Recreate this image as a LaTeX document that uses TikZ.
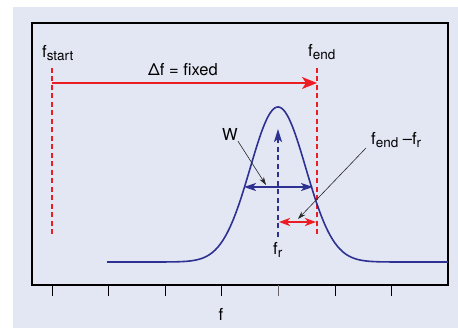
\documentclass[tikz,border=0pt]{standalone}
\usepackage{fontspec}
\setmainfont{TeX Gyre Heros}
\usetikzlibrary{arrows.meta,positioning,calc}
\definecolor{bgblue}{HTML}{E3E7F3}
\definecolor{sigred}{HTML}{EC1C24}
\definecolor{sigblue}{HTML}{2E3192}
\newcommand{\fsub}[1]{\raisebox{-0.3ex}{\fontsize{13.5}{14}\selectfont #1}}

\begin{document}
\begin{tikzpicture}[
  x=1pt, y=-1pt,
  lbl/.style={inner sep=0pt, font=\fontsize{16.5}{18}\selectfont, anchor=base west},
  marker/.style={sigred, line width=1.8pt, dash pattern=on 5pt off 3.5pt},
  curve/.style={sigblue, line width=1.6pt},
  arr/.style={line width=1.8pt},
  leader/.style={black!85, line width=0.6pt, -{Stealth[length=8pt,width=5pt]}},
  tick/.style={line width=1pt}
]
\useasboundingbox (0,0) rectangle (458,328);
\fill[bgblue] (13,7) rectangle (458,328);
\draw[line width=1.3pt] (32,23) rectangle (448,285);
% axis ticks
\foreach \t in {52,108,165,221,335,391}
  \draw[tick] (\t,285) -- (\t,296);
\draw[tick, black!60] (278,285) -- (278,296);
\node[lbl, anchor=base] (faxis) at (221,321) {f};

% start and end markers
\coordinate (fs top) at (52,68);
\coordinate (fs bot) at (52,236);
\coordinate (fe top) at (317,68);
\coordinate (fe bot) at (317,236);
\draw[marker] (fs top) -- (fs bot);
\draw[marker] (fe top) -- (fe bot);
\node[lbl] (fstart) at (42,58) {f\fsub{start}};
\node[lbl] (fend) at (308,57) {f\fsub{end}};

% fixed span
\coordinate (span l) at (52,83);
\coordinate (span r) at (317,83);
\draw[arr, sigred, -{Stealth[length=15pt,width=12pt,inset=4pt]}] (span l) -- (span r);
\node[lbl] (span) at (148,76) {Δf = fixed};

% resonance curve
\draw[curve] plot[domain=107:448, samples=200] (\x,{262-155*exp(-(((\x-278)/39.3)^2))});

% resonance marker
\coordinate (fr bot) at (278,237);
\coordinate (fr top) at (278,129);
\draw[arr, sigblue, dash pattern=on 5pt off 3.5pt, -{Stealth[length=13pt,width=8pt,inset=3pt]}] (fr bot) -- (fr top);
\node[lbl] (fr) at (273,255) {f\fsub{r}};

% width
\coordinate (w l) at (244,187);
\coordinate (w r) at (313,187);
\draw[arr, sigblue, {Stealth[length=12pt,width=8pt,inset=3pt]}-{Stealth[length=12pt,width=8pt,inset=3pt]}] (w l) -- (w r);
\node[lbl] (w) at (222,141) {W};
\coordinate (w tip) at (266,185);
\draw[leader] (w.south east) -- (w tip);

% offset from end
\coordinate (d l) at (279,222);
\coordinate (d r) at (316,222);
\draw[arr, sigred, {Stealth[length=11pt,width=8pt,inset=3pt]}-{Stealth[length=11pt,width=8pt,inset=3pt]}] (d l) -- (d r);
\node[lbl] (diff) at (371,145) {f\fsub{end} –f\fsub{r}};
\coordinate (d tip) at (298,219);
\draw[leader] ([xshift=-5pt]diff.south west) -- (d tip);
\end{tikzpicture}
\end{document}
